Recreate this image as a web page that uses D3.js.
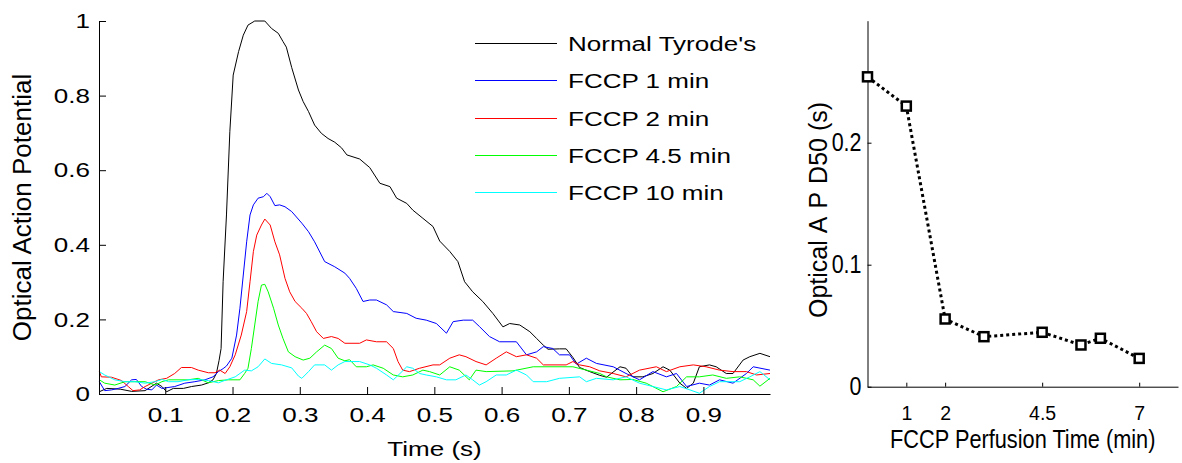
<!DOCTYPE html>
<html>
<head>
<meta charset="utf-8">
<script src="https://cdn.jsdelivr.net/npm/d3@7.9.0/dist/d3.min.js"></script>
<style>
  body { margin: 0; background: #fff; }
  svg { display: block; font-family: "Liberation Sans", Arial, Helvetica, sans-serif; }
</style>
</head>
<body>
<svg id="chart" width="1182" height="463"></svg>
<script>
// ---- left panel: optical action potential traces, [time (s), normalised amplitude]
const normalTyrode = [[0.002,0.006],[0.013,0.015],[0.033,0.013],[0.050,0.007],[0.070,0.009],[0.087,0.029],[0.095,0.020],[0.102,0.006],[0.112,0.015],[0.127,0.015],[0.139,0.020],[0.154,0.024],[0.164,0.030],[0.171,0.038],[0.176,0.055],[0.180,0.090],[0.183,0.122],[0.186,0.301],[0.191,0.480],[0.196,0.703],[0.201,0.855],[0.209,0.918],[0.216,0.962],[0.223,0.989],[0.233,1.0],[0.248,1.0],[0.258,0.980],[0.268,0.967],[0.275,0.945],[0.280,0.930],[0.288,0.875],[0.298,0.815],[0.305,0.784],[0.313,0.757],[0.322,0.721],[0.332,0.699],[0.342,0.685],[0.352,0.675],[0.362,0.660],[0.370,0.641],[0.389,0.630],[0.404,0.607],[0.419,0.565],[0.434,0.556],[0.444,0.525],[0.459,0.511],[0.468,0.493],[0.483,0.471],[0.498,0.449],[0.508,0.410],[0.523,0.382],[0.535,0.355],[0.545,0.301],[0.557,0.274],[0.572,0.248],[0.587,0.216],[0.602,0.180],[0.612,0.189],[0.627,0.185],[0.642,0.167],[0.652,0.149],[0.662,0.131],[0.669,0.120],[0.686,0.121],[0.696,0.121],[0.706,0.098],[0.716,0.071],[0.731,0.060],[0.746,0.050],[0.756,0.045],[0.776,0.073],[0.785,0.069],[0.795,0.046],[0.810,0.046],[0.825,0.055],[0.840,0.073],[0.850,0.064],[0.865,0.029],[0.875,0.015],[0.885,0.029],[0.894,0.073],[0.909,0.078],[0.919,0.073],[0.934,0.055],[0.944,0.055],[0.959,0.091],[0.969,0.100],[0.984,0.109],[0.999,0.100]];

const fccp1 = [[0.002,0.033],[0.010,0.009],[0.020,0.011],[0.030,0.015],[0.040,0.020],[0.050,0.038],[0.057,0.039],[0.065,0.020],[0.072,0.013],[0.080,0.011],[0.087,0.024],[0.095,0.015],[0.114,0.020],[0.129,0.029],[0.144,0.033],[0.159,0.038],[0.171,0.046],[0.179,0.060],[0.186,0.068],[0.191,0.075],[0.199,0.096],[0.206,0.158],[0.211,0.230],[0.216,0.319],[0.221,0.408],[0.226,0.480],[0.231,0.507],[0.238,0.525],[0.246,0.529],[0.251,0.538],[0.256,0.529],[0.263,0.505],[0.270,0.507],[0.278,0.502],[0.288,0.489],[0.303,0.458],[0.313,0.435],[0.322,0.408],[0.337,0.355],[0.352,0.341],[0.367,0.324],[0.374,0.310],[0.384,0.283],[0.394,0.248],[0.404,0.252],[0.414,0.252],[0.429,0.239],[0.439,0.221],[0.459,0.216],[0.473,0.203],[0.488,0.198],[0.503,0.189],[0.518,0.163],[0.528,0.194],[0.543,0.198],[0.557,0.198],[0.567,0.181],[0.582,0.154],[0.597,0.140],[0.622,0.140],[0.637,0.105],[0.652,0.113],[0.662,0.127],[0.676,0.122],[0.686,0.105],[0.701,0.105],[0.711,0.080],[0.726,0.096],[0.741,0.082],[0.766,0.073],[0.785,0.055],[0.805,0.038],[0.825,0.060],[0.845,0.046],[0.860,0.055],[0.875,0.020],[0.894,0.029],[0.909,0.024],[0.924,0.038],[0.944,0.029],[0.964,0.055],[0.974,0.073],[0.999,0.064]];

const fccp2 = [[0.002,0.060],[0.005,0.046],[0.020,0.045],[0.035,0.036],[0.045,0.020],[0.052,0.009],[0.062,0.011],[0.070,0.020],[0.080,0.029],[0.090,0.038],[0.102,0.042],[0.114,0.055],[0.124,0.071],[0.139,0.071],[0.149,0.064],[0.164,0.057],[0.174,0.057],[0.181,0.064],[0.189,0.055],[0.196,0.073],[0.204,0.105],[0.213,0.158],[0.221,0.221],[0.226,0.301],[0.231,0.382],[0.236,0.426],[0.243,0.453],[0.248,0.469],[0.256,0.453],[0.263,0.408],[0.270,0.373],[0.278,0.310],[0.285,0.274],[0.293,0.248],[0.303,0.230],[0.310,0.216],[0.317,0.194],[0.325,0.167],[0.335,0.149],[0.347,0.154],[0.357,0.149],[0.367,0.136],[0.389,0.136],[0.399,0.145],[0.414,0.140],[0.429,0.140],[0.439,0.122],[0.446,0.087],[0.453,0.064],[0.463,0.060],[0.478,0.069],[0.498,0.078],[0.508,0.078],[0.523,0.096],[0.537,0.105],[0.547,0.100],[0.562,0.087],[0.577,0.078],[0.592,0.096],[0.607,0.113],[0.622,0.100],[0.637,0.105],[0.652,0.096],[0.662,0.078],[0.696,0.078],[0.706,0.087],[0.716,0.078],[0.731,0.073],[0.746,0.062],[0.766,0.055],[0.785,0.046],[0.805,0.064],[0.830,0.073],[0.845,0.060],[0.865,0.073],[0.885,0.078],[0.904,0.073],[0.924,0.064],[0.944,0.060],[0.964,0.060],[0.979,0.051],[0.999,0.055]];

const fccp45 = [[0.002,0.038],[0.010,0.029],[0.025,0.024],[0.040,0.033],[0.055,0.033],[0.070,0.033],[0.085,0.024],[0.095,0.033],[0.105,0.038],[0.134,0.038],[0.149,0.042],[0.164,0.030],[0.179,0.036],[0.194,0.038],[0.211,0.038],[0.218,0.055],[0.223,0.069],[0.228,0.122],[0.233,0.185],[0.238,0.248],[0.243,0.292],[0.248,0.294],[0.253,0.274],[0.261,0.230],[0.268,0.185],[0.275,0.149],[0.283,0.113],[0.293,0.100],[0.305,0.091],[0.315,0.096],[0.325,0.113],[0.337,0.131],[0.347,0.122],[0.357,0.096],[0.367,0.089],[0.374,0.092],[0.384,0.073],[0.399,0.073],[0.409,0.078],[0.424,0.069],[0.439,0.051],[0.453,0.046],[0.468,0.051],[0.483,0.064],[0.493,0.060],[0.508,0.051],[0.523,0.073],[0.537,0.064],[0.552,0.038],[0.562,0.064],[0.577,0.060],[0.617,0.062],[0.647,0.073],[0.706,0.073],[0.726,0.064],[0.746,0.055],[0.756,0.046],[0.776,0.038],[0.795,0.039],[0.815,0.029],[0.840,0.006],[0.860,0.020],[0.875,0.046],[0.894,0.046],[0.914,0.051],[0.934,0.042],[0.954,0.046],[0.974,0.038],[0.984,0.021],[0.999,0.042]];

const fccp10 = [[0.002,0.060],[0.010,0.051],[0.025,0.038],[0.040,0.033],[0.055,0.033],[0.070,0.029],[0.085,0.033],[0.095,0.039],[0.105,0.033],[0.119,0.033],[0.134,0.038],[0.149,0.039],[0.164,0.036],[0.179,0.030],[0.191,0.038],[0.204,0.046],[0.218,0.064],[0.228,0.062],[0.238,0.073],[0.248,0.094],[0.258,0.082],[0.273,0.078],[0.288,0.070],[0.298,0.048],[0.303,0.042],[0.313,0.060],[0.322,0.078],[0.337,0.078],[0.347,0.064],[0.357,0.078],[0.367,0.087],[0.389,0.087],[0.404,0.078],[0.414,0.069],[0.429,0.051],[0.439,0.038],[0.449,0.055],[0.459,0.073],[0.468,0.069],[0.478,0.055],[0.488,0.051],[0.503,0.046],[0.518,0.038],[0.532,0.038],[0.547,0.051],[0.557,0.038],[0.567,0.024],[0.577,0.033],[0.592,0.051],[0.607,0.051],[0.622,0.064],[0.637,0.051],[0.647,0.033],[0.667,0.033],[0.686,0.042],[0.716,0.046],[0.726,0.033],[0.741,0.042],[0.766,0.038],[0.785,0.046],[0.805,0.029],[0.825,0.020],[0.845,0.011],[0.865,0.020],[0.880,0.011],[0.894,0.002],[0.909,0.020],[0.924,0.033],[0.954,0.033],[0.969,0.046],[0.984,0.060],[0.999,0.038]];

const seriesNames = ["Normal Tyrode's", "FCCP 1 min", "FCCP 2 min", "FCCP 4.5 min", "FCCP 10 min"];
const seriesData = [normalTyrode, fccp1, fccp2, fccp45, fccp10];
const seriesColors = ["#000000", "#0000ff", "#ff0000", "#00ff00", "#00ffff"];
const timeTicks = [0.1, 0.2, 0.3, 0.4, 0.5, 0.6, 0.7, 0.8, 0.9];
const potentialTicks = [0, 0.2, 0.4, 0.6, 0.8, 1];

// ---- right panel: APD50 vs perfusion time
const perfusionMin = [0, 1, 2, 3, 4.5, 5.5, 6, 7];
const apd50 = [0.254, 0.230, 0.0555, 0.041, 0.0446, 0.0342, 0.0397, 0.0232];
const perfusionTicks = [1, 2, 4.5, 7];
const apdTicks = [0, 0.1, 0.2];

const svg = d3.select("#chart");
svg.append("rect").attr("width", 1182).attr("height", 463).attr("fill", "#fff");

// ================= left panel =================
const xL = d3.scaleLinear().domain([0.0015, 0.999]).range([99, 770]);
const yL = d3.scaleLinear().domain([0, 1]).range([394, 21]);
const stretch = 1.24;   // text in the left panel is drawn wide

const left = svg.append("g");

const line = d3.line()
  .x(d => xL(d[0]))
  .y(d => yL(d[1]));

seriesData.forEach((s, i) => {
  left.append("path")
    .datum(s)
    .attr("fill", "none")
    .attr("stroke", seriesColors[i])
    .attr("stroke-width", 1)
    .attr("stroke-linejoin", "round")
    .attr("d", line);
});

const axBottomL = left.append("g")
  .attr("transform", `translate(0,${yL(0)})`)
  .call(d3.axisBottom(xL).tickValues(timeTicks).tickSizeInner(-7).tickSizeOuter(0).tickPadding(13).tickFormat(d => String(d)));

const axLeftL = left.append("g")
  .attr("transform", `translate(${xL.range()[0]},0)`)
  .call(d3.axisLeft(yL).tickValues(potentialTicks).tickSizeInner(-7).tickSizeOuter(0).tickPadding(9).tickFormat(d => String(d)));

[axBottomL, axLeftL].forEach(ax => {
  ax.attr("font-family", null).attr("font-size", 21);
  ax.select(".domain").attr("stroke", "#000");
  ax.selectAll(".tick line").attr("stroke", "#000");
  ax.selectAll(".tick text").attr("fill", "#000");
});
axBottomL.selectAll(".tick text").attr("transform", `scale(${stretch},1)`);
axLeftL.selectAll(".tick text")
  .attr("x", -9 / stretch)
  .attr("transform", `scale(${stretch},1)`);

left.append("text")
  .attr("transform", `translate(${(xL.range()[0] + xL.range()[1]) / 2},456) scale(${stretch},1)`)
  .attr("text-anchor", "middle")
  .attr("font-size", 21)
  .text("Time (s)");

left.append("text")
  .attr("transform", `translate(31,${(yL(0) + yL(1)) / 2}) rotate(-90)`)
  .attr("text-anchor", "middle")
  .attr("font-size", 26)
  .text("Optical Action Potential");

// legend
const legend = left.append("g");
seriesNames.forEach((name, i) => {
  const ly = Math.round(43.3 + i * 37.1) + 0.5;
  legend.append("path")
    .attr("d", `M475,${ly}H557`)
    .attr("fill", "none")
    .attr("stroke", seriesColors[i])
    .attr("stroke-width", 1);
  legend.append("text")
    .attr("transform", `translate(568,${ly + 7.5}) scale(${stretch},1)`)
    .attr("font-size", 21)
    .text(name);
});

// ================= right panel =================
const xR = d3.scaleLinear().domain([0, 8]).range([867.5, 1178]);
const yR = d3.scaleLinear().domain([0, 0.3]).range([386.7, 20.7]);
const squeeze = 0.86;

const right = svg.append("g");

const axBottomR = right.append("g")
  .attr("transform", `translate(0,${yR(0)})`)
  .call(d3.axisBottom(xR).tickValues(perfusionTicks).tickSizeInner(-4).tickSizeOuter(0).tickPadding(18).tickFormat(d => String(d)));

const axLeftR = right.append("g")
  .attr("transform", `translate(${xR(0)},0)`)
  .call(d3.axisLeft(yR).tickValues(apdTicks).tickSizeInner(-4).tickSizeOuter(0).tickPadding(6).tickFormat(d => String(d)));

[axBottomR, axLeftR].forEach(ax => {
  ax.attr("font-family", null);
  ax.select(".domain").attr("stroke", "#000");
  ax.selectAll(".tick line").attr("stroke", "#000");
  ax.selectAll(".tick text").attr("fill", "#000");
});
axBottomR.attr("font-size", 21);
axBottomR.selectAll(".tick text").attr("transform", "scale(0.93,1)");
axLeftR.attr("font-size", 25);
axLeftR.selectAll(".tick text")
  .attr("x", -6 / squeeze)
  .attr("transform", `scale(${squeeze},1)`);

right.append("text")
  .attr("transform", `translate(${(xR.range()[0] + xR.range()[1]) / 2},448) scale(0.87,1)`)
  .attr("text-anchor", "middle")
  .attr("font-size", 25)
  .text("FCCP Perfusion Time (min)");

const yLabR = right.append("text")
  .attr("transform", `translate(827,210) rotate(-90)`)
  .attr("text-anchor", "middle")
  .attr("font-size", 25);
yLabR.append("tspan").text("Optical ");
yLabR.append("tspan").attr("letter-spacing", 8).text("AP");
yLabR.append("tspan").text("D50 (s)");

const apdPoints = perfusionMin.map((m, i) => [m, apd50[i]]);

right.append("path")
  .datum(apdPoints)
  .attr("fill", "none")
  .attr("stroke", "#000")
  .attr("stroke-width", 3)
  .attr("stroke-dasharray", "3,3")
  .attr("d", d3.line().x(d => xR(d[0])).y(d => yR(d[1])));

right.selectAll("rect.marker")
  .data(apdPoints)
  .join("rect")
  .attr("class", "marker")
  .attr("x", d => xR(d[0]) - 4.5)
  .attr("y", d => yR(d[1]) - 4.5)
  .attr("width", 9)
  .attr("height", 9)
  .attr("fill", "#fff")
  .attr("stroke", "#000")
  .attr("stroke-width", 2.5);
</script>
</body>
</html>
